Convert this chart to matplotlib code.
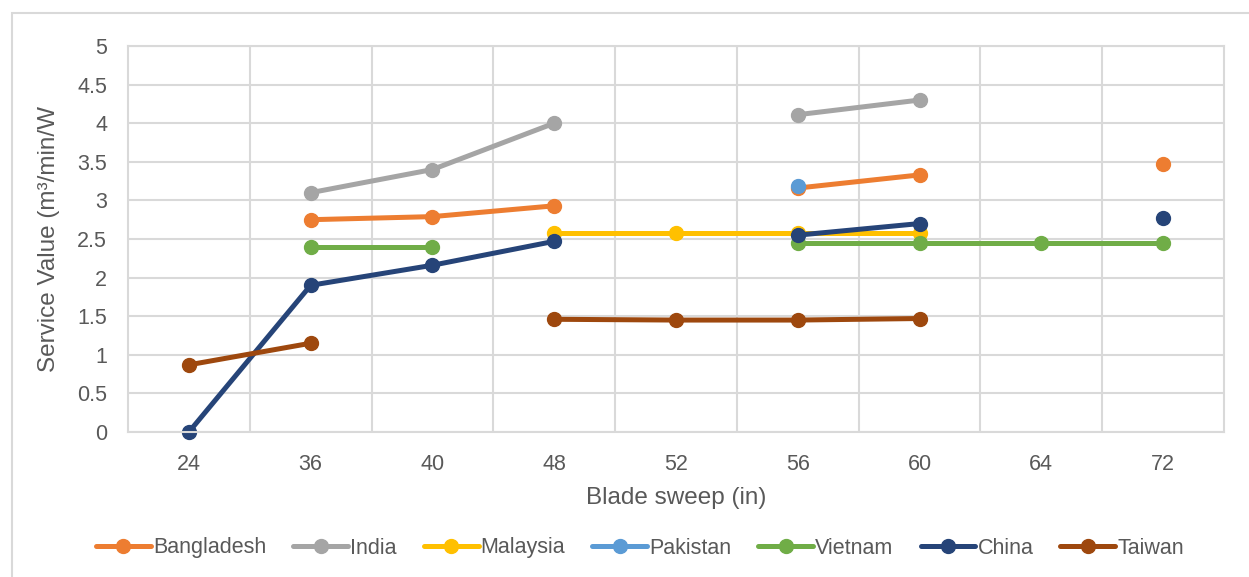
import numpy as np
import matplotlib
matplotlib.use("Agg")
from matplotlib import pyplot as plt
from matplotlib.patches import Rectangle

nan = np.nan

sweeps = ["24", "36", "40", "48", "52", "56", "60", "64", "72"]

bangladesh = [nan, 2.75, 2.79, 2.93, nan, 3.16, 3.33, nan, 3.47]
india = [nan, 3.10, 3.40, 4.00, nan, 4.11, 4.30, nan, nan]
malaysia = [nan, nan, nan, 2.58, 2.58, 2.58, 2.58, nan, nan]
pakistan = [nan, nan, nan, nan, nan, 3.19, nan, nan, nan]
vietnam = [nan, 2.40, 2.40, nan, nan, 2.45, 2.45, 2.45, 2.45]
china = [0.0, 1.90, 2.16, 2.47, nan, 2.55, 2.70, nan, 2.77]
taiwan = [0.87, 1.15, nan, 1.46, 1.45, 1.45, 1.47, nan, nan]

series = [
    ("Bangladesh", bangladesh, "#ED7D31"),
    ("India", india, "#A5A5A5"),
    ("Malaysia", malaysia, "#FFC000"),
    ("Pakistan", pakistan, "#5B9BD5"),
    ("Vietnam", vietnam, "#70AD47"),
    ("China", china, "#264478"),
    ("Taiwan", taiwan, "#9E480E"),
]

plt.rcParams["font.family"] = ["Liberation Sans", "DejaVu Sans"]
text_col = "#595959"
grid_col = "#D9D9D9"

fig = plt.figure(figsize=(12.49, 5.77), dpi=100)
# chart area border
fig.patches.append(Rectangle((12 / 1249, -0.1), 1.2, (577 - 13) / 577 + 0.1,
                             transform=fig.transFigure, fill=False,
                             edgecolor=grid_col, linewidth=1.5))

ax = fig.add_axes([128 / 1249, 1 - 432 / 577, 1096 / 1249, 386 / 577])

x = np.arange(len(sweeps))
for name, vals, col in series:
    ax.plot(x, vals, color=col, lw=3.6, marker="o", markersize=10,
            solid_capstyle="round", label=name, clip_on=False)

ax.set_xlim(-0.5, len(sweeps) - 0.5)
ax.set_ylim(0, 5)
ax.set_xticks(x)
ax.set_xticklabels(sweeps)
ax.set_xticks(np.arange(0.5, len(sweeps) - 1, 1), minor=True)
ax.set_yticks(np.arange(0, 5.01, 0.5))
ax.set_yticklabels(["{:g}".format(v) for v in np.arange(0, 5.01, 0.5)])
ax.grid(True, axis="y", which="major", color=grid_col, lw=1.5)
ax.grid(True, axis="x", which="minor", color=grid_col, lw=1.5)
ax.set_axisbelow(True)
ax.tick_params(which="both", length=0, labelsize=15.5, labelcolor=text_col)
ax.tick_params(axis="y", pad=15)
ax.tick_params(axis="x", pad=16)
for s in ax.spines.values():
    s.set_color(grid_col)
    s.set_linewidth(1.5)

ax.set_xlabel("Blade sweep (in)", fontsize=17.5, color=text_col)
ax.xaxis.set_label_coords(0.5, -0.142)
ax.set_ylabel("Service Value (m³/min/W", fontsize=17.5, color=text_col)
ax.yaxis.set_label_coords(-0.062, 0.5)

fig.legend(loc="center", bbox_to_anchor=(640 / 1249, 1 - 548 / 577), ncol=7,
           frameon=False, fontsize=15.5, handlelength=2.55, handletextpad=0.1,
           columnspacing=1.25, labelcolor=text_col)

fig.savefig("out.png", dpi=100)
